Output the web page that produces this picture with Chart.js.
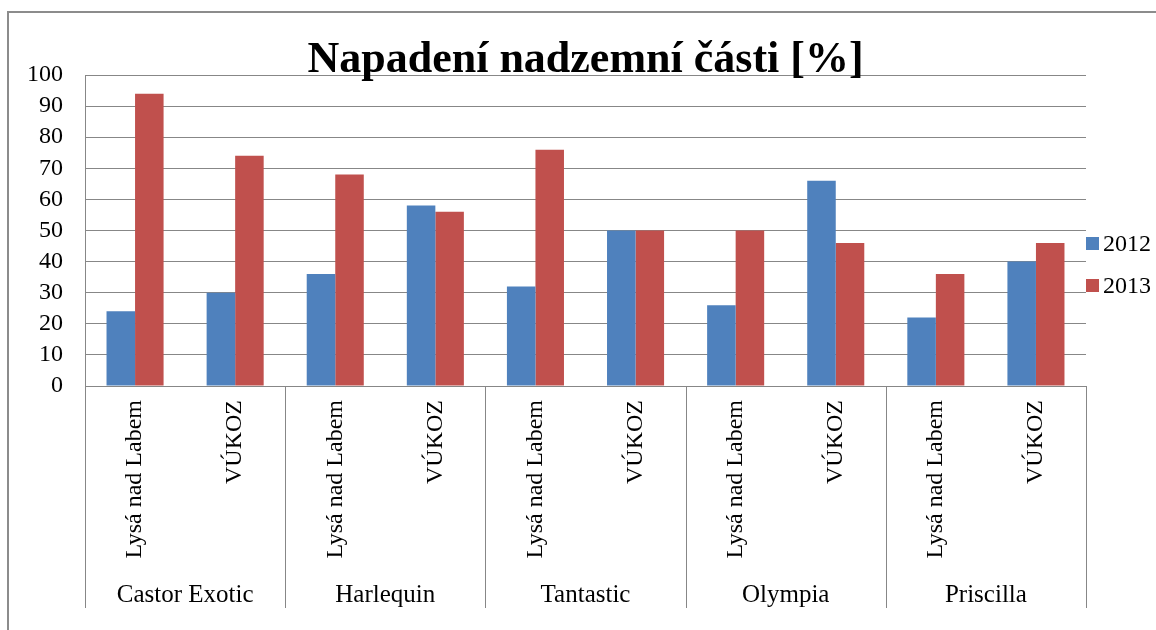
<!DOCTYPE html>
<html>
<head>
<meta charset="utf-8">
<script src="https://cdn.jsdelivr.net/npm/chart.js@4.4.0/dist/chart.umd.min.js"></script>
<style>
    html, body { margin: 0; padding: 0; background: #fff; }
    #wrap { width: 1156px; height: 630px; position: relative; }
</style>
</head>
<body>
<div id="wrap"><canvas id="chart" width="1156" height="630"></canvas></div>
<script>
// chart data
const chartTitle = 'Napadení nadzemní části [%]';
const groups = ['Castor Exotic', 'Harlequin', 'Tantastic', 'Olympia', 'Priscilla'];
const sites = ['Lysá nad Labem', 'VÚKOZ'];
const series2012 = [24, 30, 36, 58, 32, 50, 26, 66, 22, 40];
const series2013 = [94, 74, 68, 56, 76, 50, 50, 46, 36, 46];
const seriesNames = ['2012', '2013'];
const seriesColors = ['#4F81BD', '#C0504D'];

const labels = [];
groups.forEach(() => sites.forEach(s => labels.push(s)));

const gridColor = '#878787';
const serif = '"Liberation Serif", "Times New Roman", serif';

// title, group labels, dividers, legend and the outer frame
const extras = {
    id: 'extras',
    afterDraw(chart) {
        const ctx = chart.ctx;
        const area = chart.chartArea;
        const x = chart.scales.x;
        ctx.save();

        // outer frame (only top and left are visible in the picture)
        ctx.strokeStyle = '#8c8c8c';
        ctx.lineWidth = 2;
        ctx.beginPath();
        ctx.moveTo(8, 630);
        ctx.lineTo(8, 12);
        ctx.lineTo(1156, 12);
        ctx.stroke();

        // title
        ctx.fillStyle = '#000';
        ctx.font = 'bold 44px ' + serif;
        ctx.textAlign = 'center';
        ctx.textBaseline = 'alphabetic';
        ctx.fillText(chartTitle, (area.left + area.right) / 2, 72);

        // group dividers and labels
        ctx.strokeStyle = gridColor;
        ctx.lineWidth = 1;
        const n = sites.length;
        const edges = [];
        for (let g = 0; g <= groups.length; g++) {
            let px;
            if (g === 0) px = area.left;
            else if (g === groups.length) px = area.right;
            else px = (x.getPixelForTick(g * n - 1) + x.getPixelForTick(g * n)) / 2;
            edges.push(px);
            ctx.beginPath();
            ctx.moveTo(Math.round(px) + 0.5, area.bottom);
            ctx.lineTo(Math.round(px) + 0.5, 608);
            ctx.stroke();
        }
        ctx.font = '25px ' + serif;
        groups.forEach((name, g) => {
            ctx.fillText(name, (edges[g] + edges[g + 1]) / 2, 602);
        });

        // legend
        ctx.textAlign = 'left';
        ctx.textBaseline = 'middle';
        ctx.font = '24px ' + serif;
        const legendY = [244, 286];
        seriesNames.forEach((name, i) => {
            ctx.fillStyle = seriesColors[i];
            ctx.fillRect(1086, legendY[i] - 7, 13, 13);
            ctx.fillStyle = '#000';
            ctx.fillText(name, 1103, legendY[i] + 1);
        });

        ctx.restore();
    }
};

new Chart(document.getElementById('chart'), {
    type: 'bar',
    data: {
        labels: labels,
        datasets: [
            { label: seriesNames[0], data: series2012, backgroundColor: seriesColors[0] },
            { label: seriesNames[1], data: series2013, backgroundColor: seriesColors[1] }
        ]
    },
    options: {
        responsive: false,
        animation: false,
        layout: { padding: { top: 75, right: 70, left: 0, bottom: 0 } },
        datasets: {
            bar: { categoryPercentage: 0.57, barPercentage: 1.0 }
        },
        plugins: {
            legend: { display: false },
            title: { display: false },
            tooltip: { enabled: false }
        },
        scales: {
            x: {
                grid: { display: false, drawTicks: false },
                border: { display: true, color: gridColor, width: 1 },
                ticks: {
                    color: '#000',
                    font: { family: serif, size: 24 },
                    minRotation: 90,
                    maxRotation: 90,
                    autoSkip: false,
                    padding: 14
                },
                afterFit(scale) { scale.height = 244; }
            },
            y: {
                min: 0,
                max: 100,
                ticks: {
                    stepSize: 10,
                    autoSkip: false,
                    color: '#000',
                    font: { family: serif, size: 24 },
                    padding: 22
                },
                grid: { color: gridColor, lineWidth: 1, drawTicks: false },
                border: { display: true, color: gridColor, width: 1 },
                afterFit(scale) { scale.width = 85; }
            }
        }
    },
    plugins: [extras]
});
</script>
</body>
</html>
